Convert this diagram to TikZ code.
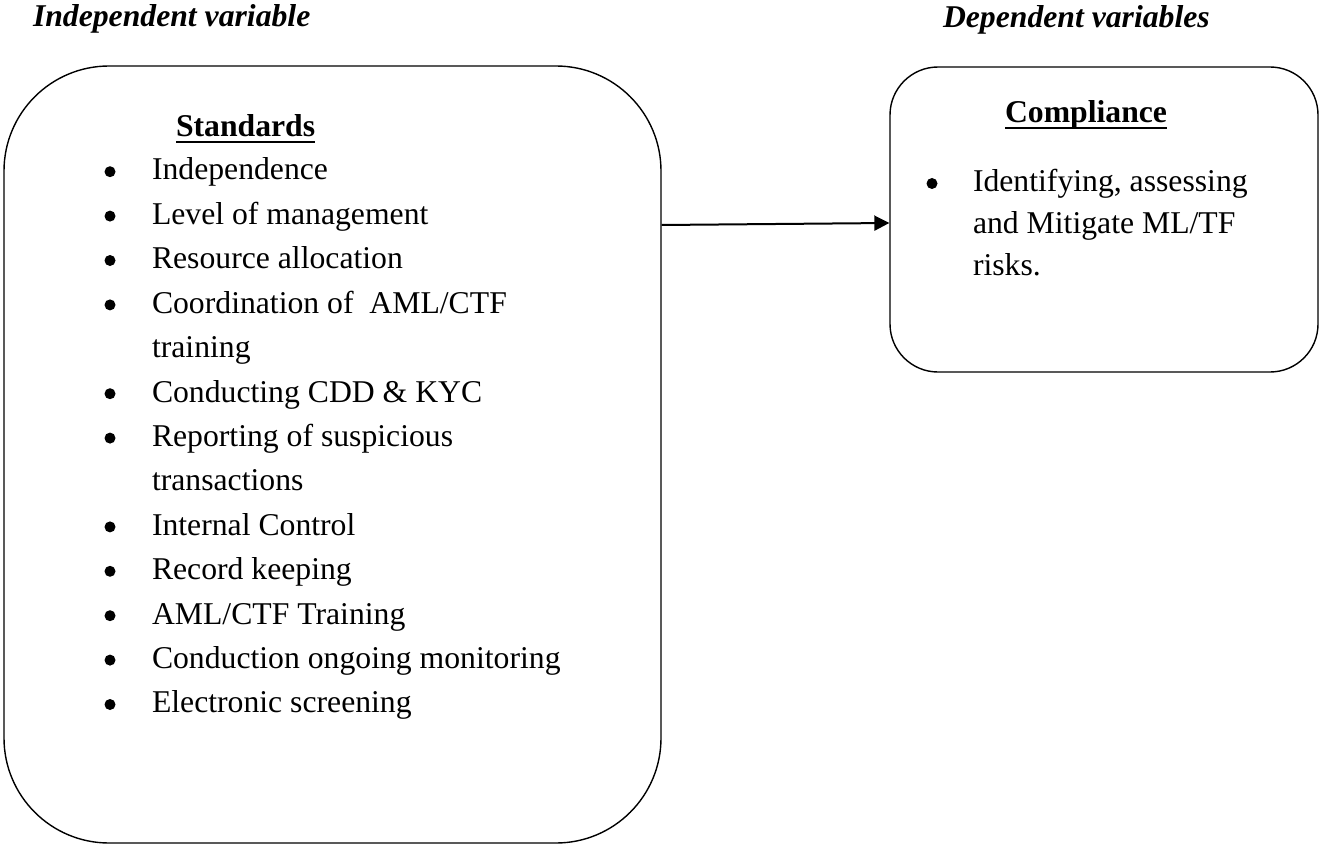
\documentclass[tikz,border=0pt]{standalone}
\usepackage{fontspec}
\setmainfont{Liberation Serif}
\usetikzlibrary{arrows.meta}
\begin{document}
\begin{tikzpicture}[x=1pt,y=-1pt,
  txt/.style={anchor=base west,inner sep=0pt,outer sep=0pt,font=\fontsize{31.7pt}{44.4pt}\selectfont},
  head/.style={txt,font=\fontsize{31.7pt}{44.4pt}\selectfont\bfseries\itshape},
  ttl/.style={txt,font=\fontsize{31.7pt}{44.4pt}\selectfont\bfseries},
  bul/.style={circle,fill=black,inner sep=0pt,minimum size=11pt},
  box/.style={draw=black,line width=1.4pt,inner sep=0pt},
  uline/.style={line width=2.2pt},
  conn/.style={line width=2pt,-{Triangle[length=15pt,width=15pt]}}]
\useasboundingbox (0,0) rectangle (1319,845);

% headings
\node[head] (hind) at (33,27) {Independent variable};
\node[head] (hdep) at (943,28) {Dependent variables};

% boxes
\node[box,rounded corners=105pt,minimum width=657pt,minimum height=777pt] (L) at (332.5,454.5) {};
\node[box,rounded corners=48pt,minimum width=428pt,minimum height=305pt] (R) at (1104,219.5) {};

% left box content
\node[ttl] (std) at (176,137) {Standards};
\draw[uline] ([yshift=-5pt]std.base west) -- ([yshift=-5pt]std.base east);

\node[txt] (l0) at (152,180) {Independence};
\node[txt] (l1) at (152,224.4) {Level of management};
\node[txt] (l2) at (152,268.8) {Resource allocation};
\node[txt] (l3) at (152,313.2) {Coordination of\ \ AML/CTF};
\node[txt] (l4) at (152,357.6) {training};
\node[txt] (l5) at (152,402.0) {Conducting CDD \& KYC};
\node[txt] (l6) at (152,446.4) {Reporting of suspicious};
\node[txt] (l7) at (152,490.8) {transactions};
\node[txt] (l8) at (152,535.2) {Internal Control};
\node[txt] (l9) at (152,579.6) {Record keeping};
\node[txt] (l10) at (152,624.0) {AML/CTF Training};
\node[txt] (l11) at (152,668.4) {Conduction ongoing monitoring};
\node[txt] (l12) at (152,712.8) {Electronic screening};

\node[bul] (b0) at (110,171.7) {};
\node[bul] (b1) at (110,216.1) {};
\node[bul] (b2) at (110,260.5) {};
\node[bul] (b3) at (110,304.9) {};
\node[bul] (b5) at (110,393.7) {};
\node[bul] (b6) at (110,438.1) {};
\node[bul] (b8) at (110,526.9) {};
\node[bul] (b9) at (110,571.3) {};
\node[bul] (b10) at (110,615.7) {};
\node[bul] (b11) at (110,660.1) {};
\node[bul] (b12) at (110,704.5) {};

% right box content
\node[ttl] (cmp) at (1005,123) {Compliance};
\draw[uline] ([yshift=-5pt]cmp.base west) -- ([yshift=-5pt]cmp.base east);
\node[txt] (r0) at (973,192) {Identifying, assessing};
\node[txt] (r1) at (973,233.7) {and Mitigate ML/TF};
\node[txt] (r2) at (973,275.4) {risks.};
\node[bul] (rb0) at (932,183.5) {};

% connector
\draw[conn] ([yshift=229.5pt]L.east) -- ([yshift=-3.5pt]R.west);
\end{tikzpicture}
\end{document}
